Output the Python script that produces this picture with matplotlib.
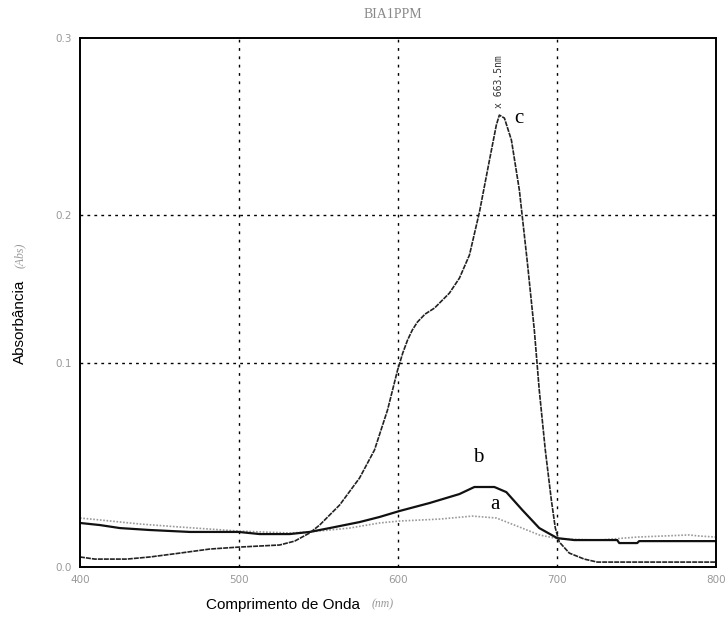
import matplotlib
matplotlib.use("Agg")
import matplotlib.pyplot as plt

# ---- data (wavelength nm, absorbance) ----
wl_a = [400, 412.6, 437.7, 462.8, 499.8, 531.9, 544.4, 569.5, 588.4, 601.0, 626.1,
        646.8, 661.9, 676.3, 688.8, 701.4, 726.5, 750.4, 783.0, 789.3, 800]
abs_a = [0.0278, 0.0267, 0.0244, 0.0227, 0.0204, 0.0193, 0.0199, 0.0221, 0.0250, 0.0261, 0.0272,
         0.0289, 0.0278, 0.0227, 0.0182, 0.0159, 0.0153, 0.0170, 0.0182, 0.0176, 0.0170]

wl_b = [400, 412.6, 425.1, 443.9, 469.1, 499.8, 513.0, 531.9, 544.4, 557.0, 575.8, 588.4,
        601.0, 619.8, 638.6, 648.0, 660.6, 668.1, 678.2, 688.8, 700.1, 710.8, 737.8, 739.1,
        750.4, 751.6, 800]
abs_b = [0.0250, 0.0238, 0.0221, 0.0210, 0.0199, 0.0199, 0.0187, 0.0187, 0.0199, 0.0221, 0.0255, 0.0284,
         0.0318, 0.0363, 0.0414, 0.0454, 0.0454, 0.0425, 0.0323, 0.0221, 0.0164, 0.0153, 0.0153, 0.0136,
         0.0136, 0.0147, 0.0147]

wl_c = [400, 409.4, 429.5, 444.0, 462.8, 481.6, 499.8, 525.6, 535.0, 544.4, 550.7, 563.3, 575.8,
        585.2, 593.4, 599.7, 603.0, 606.0, 609.0, 612.2, 617.0, 622.9, 632.3, 638.6, 644.9,
        651.2, 657.5, 661.8, 663.7, 666.9, 671.3, 676.3, 681.3, 685.7, 688.8, 692.6, 696.4,
        698.9, 701.4, 707.7, 717.1, 725.3, 800]
abs_c = [0.0057, 0.0045, 0.0045, 0.0057, 0.0079, 0.0102, 0.0113, 0.0125, 0.0147, 0.0193, 0.0238, 0.0352, 0.0505,
         0.0664, 0.0891, 0.1117, 0.1215, 0.1288, 0.1345, 0.1390, 0.1435, 0.1469, 0.1554, 0.1639, 0.1770,
         0.2014, 0.2309, 0.2507, 0.2564, 0.2547, 0.2422, 0.2138, 0.1730, 0.1344, 0.1004, 0.0664, 0.0380,
         0.0221, 0.0142, 0.0079, 0.0045, 0.0028, 0.0028]

x_ticks = [400, 500, 600, 700, 800]
x_ticklabels = ["400", "500", "600", "700", "800"]
y_ticks = [0.0, 0.1157, 0.1997, 0.3]
y_ticklabels = ["0.0", "0.1", "0.2", "0.3"]

curve_labels = ["a", "b", "c"]
label_pos = [(661.0, 0.0355), (650.5, 0.0620), (676.3, 0.2545)]
peak_wl = 663.7
peak_abs = 0.2564

fig = plt.figure(figsize=(7.27, 6.17), dpi=100)
ax = fig.add_axes([0.110, 0.081, 0.875, 0.857])

ax.plot(wl_a, abs_a, color="#9a9a9a", lw=1.2, ls=(0, (1, 1)))
ax.plot(wl_b, abs_b, color="#111111", lw=1.6, ls="-")
ax.plot(wl_c, abs_c, color="#222222", lw=1.2, ls=(0, (3, 0.6)))

ax.set_xlim(400, 800)
ax.set_ylim(0, 0.3)

ax.set_xticks(x_ticks)
ax.set_xticklabels(x_ticklabels)
ax.set_yticks(y_ticks)
ax.set_yticklabels(y_ticklabels)
ax.tick_params(axis="both", length=0, labelsize=7.5, labelcolor="#999999", pad=6)

for xv in x_ticks[1:-1]:
    ax.axvline(xv, color="black", lw=1.0, ls=(0, (2, 4)), zorder=0)
for yv in y_ticks[1:-1]:
    ax.axhline(yv, color="black", lw=1.0, ls=(0, (2, 3)), zorder=0)

for s in ax.spines.values():
    s.set_linestyle((0, (2, 1)))
    s.set_linewidth(1.4)
    s.set_color("black")

for lab, (lx, ly) in zip(curve_labels, label_pos):
    ax.text(lx, ly, lab, fontsize=15, family="Liberation Serif", ha="center", va="center")

ax.text(peak_wl, peak_abs + 0.004, "x 663.5nm", rotation=90, fontsize=7, color="#333333",
        ha="center", va="bottom", family="DejaVu Sans Mono")

fig.text(0.54, 0.977, "BIA1PPM", ha="center", va="center", fontsize=10, color="#888888",
         family="Liberation Serif")
fig.text(0.028, 0.478, "Absorbância", rotation=90, ha="center", va="center", fontsize=11,
         family="Liberation Sans")
fig.text(0.028, 0.587, "(Abs)", rotation=90, ha="center", va="center", fontsize=8.5,
         color="#999999", style="italic", family="Liberation Serif")
fig.text(0.389, 0.02, "Comprimento de Onda", ha="center", va="center", fontsize=11,
         family="Liberation Sans")
fig.text(0.527, 0.02, "(nm)", ha="center", va="center", fontsize=8.5, color="#999999",
         style="italic", family="Liberation Serif")

fig.savefig("out.png", dpi=100)
